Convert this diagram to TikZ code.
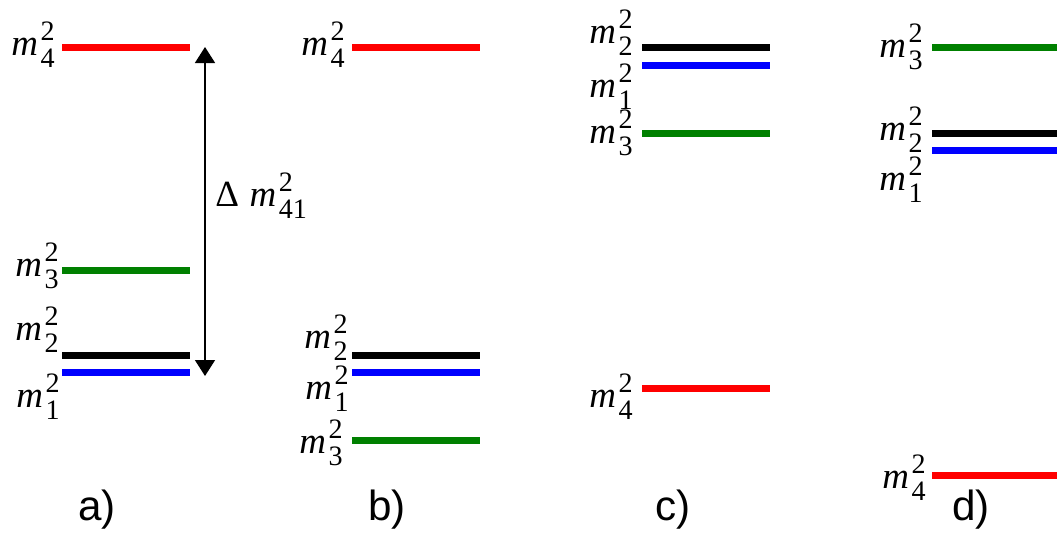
\documentclass[tikz,border=0pt]{standalone}
\usepackage{fontspec}
\setmainfont{Liberation Serif}
\newfontfamily\panelfont{Liberation Sans}
\usetikzlibrary{arrows.meta}
\definecolor{lvlred}{HTML}{FF0000}
\definecolor{lvlgreen}{HTML}{008000}
\definecolor{lvlblue}{HTML}{0000FF}
\newcommand{\idx}{\fontsize{16}{16}\selectfont}
\newcommand{\msq}[1]{\textit{m}\kern1.5pt\rlap{\raisebox{2.9mm}{\idx 2}}\raisebox{-2.5mm}{\idx #1}}

\begin{document}
\begin{tikzpicture}[x=0.2mm, y=-0.2mm,
  lvl/.style={line width=1.4mm},
  mlab/.style={anchor=base west, inner sep=0pt, font=\fontsize{21}{24}\selectfont},
  panel/.style={anchor=base west, inner sep=0pt, font=\panelfont\fontsize{24}{28}\selectfont},
  gap/.style={{Triangle[width=4mm,length=3.2mm]}-{Triangle[width=4mm,length=3.2mm]}, line width=0.3mm}
]
  \useasboundingbox (0,0) rectangle (1057,539);
  % a) normal ordering with sterile state on top
  \draw[lvl, lvlred]   (62,47)  -- (190,47);
  \draw[lvl, lvlgreen] (62,270) -- (190,270);
  \draw[lvl, black]    (62,355) -- (190,355);
  \draw[lvl, lvlblue]  (62,372) -- (190,372);
  \node[mlab] (a4) at (11,55)  {\msq{4}};
  \node[mlab] (a3) at (15,276) {\msq{3}};
  \node[mlab] (a2) at (15,340) {\msq{2}};
  \node[mlab] (a1) at (16,407) {\msq{1}};
  \coordinate (gtop) at (205,47);
  \coordinate (gbot) at (205,376);
  \draw[gap] (gbot) -- (gtop);
  \node[mlab] (dm) at (215,206) {Δ\kern6pt\msq{41}};
  % b)
  \draw[lvl, lvlred]   (352,47)  -- (480,47);
  \draw[lvl, black]    (352,355) -- (480,355);
  \draw[lvl, lvlblue]  (352,372) -- (480,372);
  \draw[lvl, lvlgreen] (352,440) -- (480,440);
  \node[mlab] (b4) at (301,55)  {\msq{4}};
  \node[mlab] (b2) at (304,348) {\msq{2}};
  \node[mlab] (b1) at (305,399) {\msq{1}};
  \node[mlab] (b3) at (299,453) {\msq{3}};
  % c)
  \draw[lvl, black]    (642,47)  -- (770,47);
  \draw[lvl, lvlblue]  (642,65)  -- (770,65);
  \draw[lvl, lvlgreen] (642,133) -- (770,133);
  \draw[lvl, lvlred]   (642,388) -- (770,388);
  \node[mlab] (c2) at (589,43)  {\msq{2}};
  \node[mlab] (c1) at (589,97)  {\msq{1}};
  \node[mlab] (c3) at (589,143) {\msq{3}};
  \node[mlab] (c4) at (589,407) {\msq{4}};
  % d)
  \draw[lvl, lvlgreen] (932,47)  -- (1060,47);
  \draw[lvl, black]    (932,133) -- (1060,133);
  \draw[lvl, lvlblue]  (932,150) -- (1060,150);
  \draw[lvl, lvlred]   (932,475) -- (1060,475);
  \node[mlab] (d3) at (879,57)  {\msq{3}};
  \node[mlab] (d2) at (879,140) {\msq{2}};
  \node[mlab] (d1) at (879,190) {\msq{1}};
  \node[mlab] (d4) at (882,488) {\msq{4}};
  % panel labels
  \node[panel] (pa) at (78,520)  {a)};
  \node[panel] (pb) at (368,520) {b)};
  \node[panel] (pc) at (655,520) {c)};
  \node[panel] (pd) at (952,520) {d)};
\end{tikzpicture}
\end{document}
